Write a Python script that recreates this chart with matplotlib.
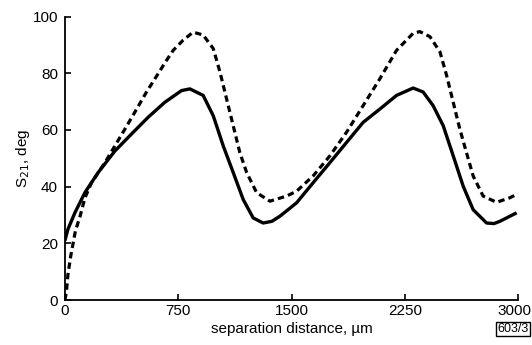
import matplotlib
matplotlib.use("Agg")
import matplotlib.pyplot as plt
import matplotlib.transforms as mtransforms

# =========================
# DATA
# =========================
solid_x = [0, 20, 66, 132, 220, 331, 441, 551, 662, 772, 827, 915, 982, 1048,
           1114, 1180, 1246, 1312, 1370, 1423, 1533, 1643, 1754, 1864, 1974,
           2085, 2195, 2305, 2371, 2437, 2504, 2570, 2636, 2702, 2791, 2840,
           2879, 2990]
solid_y = [21, 25, 30.8, 37.9, 45, 52.6, 58.6, 64.5, 69.8, 73.9, 74.5, 72.2,
           65, 54.4, 45, 35.5, 29, 27.2, 27.8, 29.6, 34.3, 41.4, 48.5, 55.6,
           62.7, 67.4, 72.2, 74.8, 73.4, 68.6, 61.5, 50.9, 40.2, 31.9, 27.2,
           27, 27.8, 30.8]

dash_x = [0, 10, 20, 40, 70, 100, 132, 176, 265, 331, 397, 463, 540, 596,
          673, 717, 783, 849, 915, 982, 1026, 1070, 1114, 1158, 1203, 1269,
          1357, 1467, 1533, 1643, 1754, 1864, 1974, 2085, 2195, 2305, 2349,
          2416, 2482, 2526, 2570, 2614, 2658, 2702, 2768, 2857, 2945, 2990]
dash_y = [0, 3, 9, 16, 24.5, 29.5, 36, 41.4, 48.5, 54.4, 60.3, 66.3, 73.4,
          78.1, 84.6, 88.1, 91.7, 94.5, 93.5, 88.7, 80.5, 71, 61.5, 52, 45,
          37.9, 34.9, 36.7, 38.4, 43.8, 50.9, 59.2, 68.6, 78.1, 88.1, 94.1,
          94.7, 92.9, 87.6, 79.3, 69.8, 60.3, 52, 43.8, 36.7, 34.5, 36.1, 37.3]

x_ticks = [0, 750, 1500, 2250, 3000]
y_ticks = [0, 20, 40, 60, 80, 100]

# =========================
# PLOT
# =========================
plt.rcParams['font.family'] = ['Liberation Sans', 'DejaVu Sans']

fig = plt.figure(figsize=(5.32, 3.45), dpi=100)
ax = fig.add_axes([0.122, 0.130, 0.852, 0.822])

ax.plot(solid_x, solid_y, color='black', lw=2.4, solid_capstyle='butt')
ax.plot(dash_x, dash_y, color='black', lw=2.3, dashes=(2.0, 1.3))

ax.set_xlim(0, 3000)
ax.set_ylim(0, 100)
ax.set_xticks(x_ticks)
ax.set_yticks(y_ticks)
ax.tick_params(direction='in', length=4, width=1.2, labelsize=11, pad=3)
ax.tick_params(axis='y', pad=5)

for s in ['top', 'right']:
    ax.spines[s].set_visible(False)
for s in ['left', 'bottom']:
    ax.spines[s].set_linewidth(1.3)

# last x label sits flush right, as in the original
last = ax.get_xticklabels()[-1]
last.set_ha('right')
last.set_transform(last.get_transform() +
                   mtransforms.ScaledTranslation(13 / 100, 0, fig.dpi_scale_trans))

ax.set_xlabel("separation distance, \u00b5m", fontsize=11, labelpad=3)
ax.set_ylabel("S$_{21}$, deg", fontsize=11)
ax.yaxis.set_label_coords(-0.072, 0.5)

fig.text(0.964, 0.046, "603/3", fontsize=9, ha='center', va='center',
         bbox=dict(boxstyle='square,pad=0.1', fc='white', ec='black', lw=1))

fig.savefig("out.png", dpi=100)
